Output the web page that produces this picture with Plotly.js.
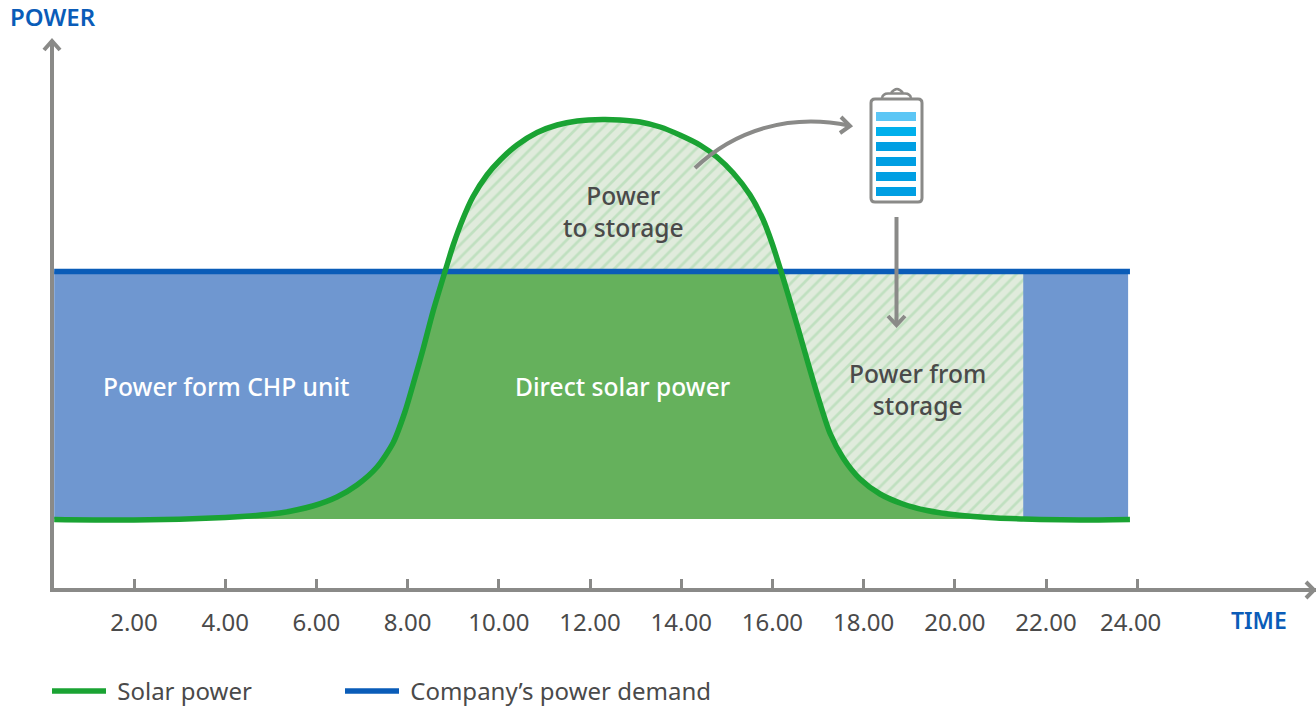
<!DOCTYPE html>
<html>
<head>
<meta charset="utf-8">
<script src="https://cdn.plot.ly/plotly-3.0.1.min.js"></script>
<style>html,body{margin:0;padding:0;background:#fff}#chart{width:1316px;height:708px}</style>
</head>
<body>
<div id="chart"></div>
<script>
const solarHours = [0.25,2.00,4.00,4.54,5.20,5.92,6.45,6.89,7.33,7.68,7.94,8.16,8.34,8.56,8.82,9.00,9.22,9.43,9.74,10.03,10.40,10.84,11.28,11.72,12.28,12.66,13.10,13.54,13.97,14.41,14.78,15.14,15.51,15.79,15.99,16.19,16.34,16.56,16.78,17.00,17.26,17.55,17.92,18.36,18.86,19.39,20.05,20.92,21.50,21.87,22.75,23.84];
const solarPower = [70.5,70,72.5,74,77,84,93,105,123,147,178,212,241,279,318.5,345,372,393,415,430,445,457.5,465,469,470.5,470,468,463,455,445,433,417,395,371,347,318.5,296,262,227,193,157,132,111,96,86,79.5,75,72,71,70.5,70,70.5];
const demandPower = 318.5;
const basePower = 71;
const dayStart = 0.25;
const dayEnd = 23.80;
const storageEnd = 21.50;
const tickHours = [2,4,6,8,10,12,14,16,18,20,22,24];
const tickLabels = ['2.00','4.00','6.00','8.00','10.00','12.00','14.00','16.00','18.00','20.00','22.00','24.00'];

const BLUE='#0a5cb8', GREEN='#1aa333', GREY='#8a8a88', TXT='#4a4a4a';
const FONT='"Noto Sans", sans-serif';
const L=54,T=40,PW=1262,PH=548;
const fx=x=>(x-L)/PW, fy=y=>(T+PH-y)/PH;

const greenX=solarHours.concat([solarHours[solarHours.length-1],solarHours[0]]);
const greenY=solarPower.map(p=>Math.max(basePower,Math.min(demandPower,p))).concat([basePower,basePower]);
const idx=solarHours.map((h,i)=>i);
const topI=idx.filter(i=>solarPower[i]>=demandPower);
const rightI=idx.filter(i=>solarHours[i]>=solarHours[topI[topI.length-1]]&&solarHours[i]<=storageEnd);
const pat={shape:'/',bgcolor:'#e0ebdc',fgcolor:'#c0e0c0',size:9,solidity:0.3};

const traces=[
 {x:[dayStart,dayEnd,dayEnd,dayStart],y:[demandPower,demandPower,basePower,basePower],mode:'none',fill:'toself',fillcolor:'#6f97d0',showlegend:false,hoverinfo:'skip'},
 {x:greenX,y:greenY,mode:'none',fill:'toself',fillcolor:'#65b15c',showlegend:false,hoverinfo:'skip'},
 {x:topI.map(i=>solarHours[i]),y:topI.map(i=>solarPower[i]),mode:'none',fill:'toself',fillpattern:pat,showlegend:false,hoverinfo:'skip'},
 {x:rightI.map(i=>solarHours[i]).concat([storageEnd]),y:rightI.map(i=>solarPower[i]).concat([demandPower]),mode:'none',fill:'toself',fillpattern:pat,showlegend:false,hoverinfo:'skip'},
 {x:[dayStart,23.84],y:[demandPower,demandPower],mode:'lines',name:'\u00a0Company’s power demand',legend:'legend2',line:{color:BLUE,width:5.5},hoverinfo:'skip'},
 {x:solarHours,y:solarPower,mode:'lines',name:'\u00a0Solar power',legend:'legend',line:{color:GREEN,width:5.5,shape:'spline',smoothing:0.7},hoverinfo:'skip'}
];

function path(d,color,width){
 return {type:'path',xref:'paper',yref:'paper',path:d,line:{color:color,width:width},layer:'above'};
}
const P=(c,x,y)=>c+fx(x)+','+fy(y);
function poly(pts){return pts.map((p,i)=>P(i?'L':'M',p[0],p[1])).join(' ');}
function bar(y0,y1,color){return {type:'rect',xref:'paper',yref:'paper',x0:fx(876),x1:fx(916),y0:fy(y0),y1:fy(y1),fillcolor:color,line:{width:0},layer:'above'};}
function rrect(x0,y0,x1,y1,r){
 return P('M',x0+r,y0)+' '+P('L',x1-r,y0)+' '+P('Q',x1,y0)+' '+fx(x1)+','+fy(y0+r)+' '+P('L',x1,y1-r)+' '+P('Q',x1,y1)+' '+fx(x1-r)+','+fy(y1)+' '+P('L',x0+r,y1)+' '+P('Q',x0,y1)+' '+fx(x0)+','+fy(y1-r)+' '+P('L',x0,y0+r)+' '+P('Q',x0,y0)+' '+fx(x0+r)+','+fy(y0)+' Z';
}
const shapes=[
 path(poly([[44,50],[52,41],[60,50]]),GREY,4),
 path(poly([[1306,582],[1314,590],[1306,598]]),GREY,4),
 path(P('M',695,168)+' '+P('C',735,130)+' '+fx(790)+','+fy(113)+' '+fx(849)+','+fy(125.5),GREY,4),
 path(poly([[841,117],[850,126],[840,133]]),GREY,4),
 path(poly([[896.5,217],[896.5,323]]),GREY,4),
 path(poly([[888,316],[896.5,325],[905,316]]),GREY,4),
 path(rrect(871,99,922,202,4),GREY,3),
 path(P('M',882,98)+' '+P('Q',883,93)+' '+fx(889)+','+fy(93.5)+' '+P('L',904,93.5)+' '+P('Q',910,93)+' '+fx(911)+','+fy(98),GREY,2.5),
 path(P('M',891,93)+' '+P('Q',897,85)+' '+fx(903)+','+fy(93),GREY,2.5),
 bar(112,121,'#5cc6f5'),bar(127,136,'#00b0ec'),bar(142,151,'#009fe3'),bar(157,166,'#009fe3'),bar(172,181,'#009fe3'),bar(187,196,'#009fe3')
];
function label(text,x,y,color,size,anchor,weight){
 return {xref:'paper',yref:'paper',x:fx(x),y:fy(y),text:text,showarrow:false,xanchor:anchor||'center',yanchor:'middle',align:'center',font:{family:FONT,size:size||24.6,color:color,weight:weight||500}};
}
const annotations=[
 label('POWER',8,16.5,BLUE,24,'left',600),
 label('TIME',1229,620,BLUE,23,'left',600),
 label('Power form CHP unit',226,387,'#ffffff'),
 label('Direct solar power',623,387,'#ffffff'),
 label('Power<br>to storage',623,211,TXT),
 label('Power from<br>storage',917,389,TXT),
 label(tickLabels[11],1130,621,TXT,24,'center',400)
];
const legendBase={orientation:'h',yanchor:'middle',xanchor:'left',y:fy(691.5),itemwidth:54,font:{family:FONT,size:24,color:TXT},bgcolor:'rgba(0,0,0,0)'};
const layout={
 width:1316,height:708,margin:{l:L,r:0,t:T,b:120,pad:0,autoexpand:false},
 paper_bgcolor:'#fff',plot_bgcolor:'#fff',showlegend:true,
 legend:Object.assign({x:fx(47)},legendBase),
 legend2:Object.assign({x:fx(340)},legendBase),
 xaxis:{range:[0.2456,27.92],showgrid:false,zeroline:false,showline:true,linecolor:GREY,linewidth:4,ticks:'inside',ticklen:9,tickwidth:3,tickcolor:GREY,tickmode:'array',tickvals:tickHours,ticktext:tickLabels.slice(0,11).concat(['']),ticklabelstandoff:10,tickfont:{family:FONT,size:24,color:TXT}},
 yaxis:{range:[2,550],showgrid:false,zeroline:false,showline:true,linecolor:GREY,linewidth:4,ticks:'',showticklabels:false},
 shapes:shapes,annotations:annotations
};
Plotly.newPlot('chart',traces,layout,{displayModeBar:false,staticPlot:true});
</script>
</body>
</html>
